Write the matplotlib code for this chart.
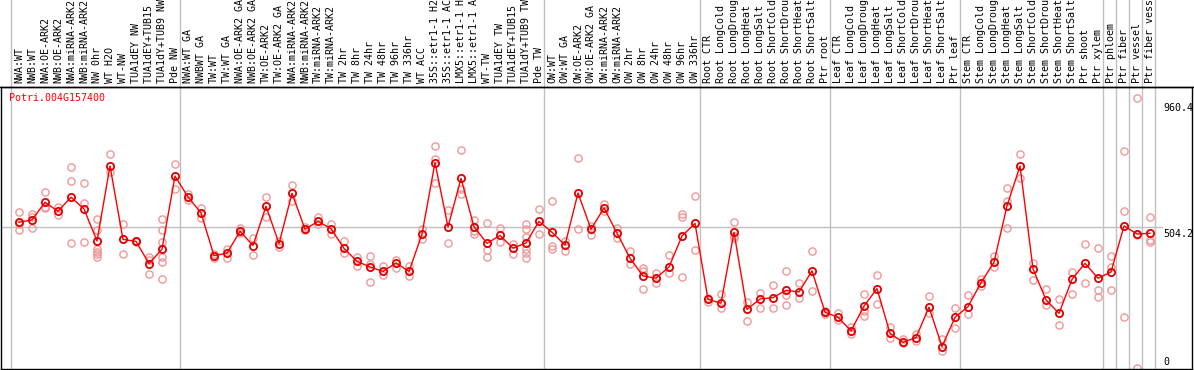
import matplotlib
matplotlib.use('Agg')
import matplotlib.pyplot as plt
import matplotlib.transforms as mtransforms

# sample labels, one column each
labels = [
    'NWA:WT', 'NWB:WT', 'NWA:OE-ARK2', 'NWB:OE-ARK2', 'NWA:miRNA-ARK2', 'NWB:miRNA-ARK2',
    'NW 0hr', 'WT H2O', 'WT-NW', 'TUA1dEY NW', 'TUA1dEY+TUB15 NW', 'TUA1dY+TUB9 NW', 'Pde NW',
    'NWA:WT GA', 'NWBWT GA', 'TW:WT', 'TW:WT GA', 'NWA:OE-ARK2 GA', 'NWB:OE-ARK2 GA',
    'TW:OE-ARK2', 'TW:OE-ARK2 GA', 'NWA:miRNA-ARK2', 'NWB:miRNA-ARK2', 'TW:miRNA-ARK2',
    'TW:miRNA-ARK2', 'TW 2hr', 'TW 8hr', 'TW 24hr', 'TW 48hr', 'TW 96hr', 'TW 336hr',
    'WT ACC', '35S::etr1-1 H2O', '35S::etr1-1 ACC', 'LMX5::etr1-1 H2O', 'LMX5::etr1-1 ACC',
    'WT-TW', 'TUA1dEY TW', 'TUA1dEY+TUB15 TW', 'TUA1dY+TUB9 TW', 'Pde TW',
    'OW:WT', 'OW:WT GA', 'OW:OE-ARK2', 'OW:OE-ARK2 GA', 'OW:miRNA-ARK2', 'OW:miRNA-ARK2',
    'OW 2hr', 'OW 8hr', 'OW 24hr', 'OW 48hr', 'OW 96hr', 'OW 336hr',
    'Root CTR', 'Root LongCold', 'Root LongDrought', 'Root LongHeat', 'Root LongSalt',
    'Root ShortCold', 'Root ShortDrought', 'Root ShortHeat', 'Root ShortSalt', 'Ptr root',
    'Leaf CTR', 'Leaf LongCold', 'Leaf LongDrought', 'Leaf LongHeat', 'Leaf LongSalt',
    'Leaf ShortCold', 'Leaf ShortDrought', 'Leaf ShortHeat', 'Leaf ShortSalt', 'Ptr leaf',
    'Stem CTR', 'Stem LongCold', 'Stem LongDrought', 'Stem LongHeat', 'Stem LongSalt',
    'Stem ShortCold', 'Stem ShortDrought', 'Stem ShortHeat', 'Stem ShortSalt',
    'Ptr shoot', 'Ptr xylem', 'Ptr phloem', 'Ptr fiber', 'Ptr vessel', 'Ptr fiber vessel',
]

# mean expression per sample
means = [
    520, 528, 591, 559, 609, 567, 453, 720, 459, 452,
    373, 424, 684, 610, 553, 401, 410, 488, 437, 577,
    444, 623, 495, 523, 497, 427, 381, 361, 345, 375,
    345, 478, 732, 503, 676, 504, 445, 473, 428, 446,
    523, 484, 439, 624, 495, 571, 481, 392, 329, 321,
    361, 471, 516, 246, 232, 484, 210, 247, 252, 278,
    272, 347, 200, 182, 134, 222, 284, 125, 93, 110,
    218, 78, 182, 220, 305, 378, 578, 720, 354, 244,
    196, 317, 374, 321, 343, 507, 478, 481,
]

# individual replicates per sample
reps = [
    [555, 492, 513], [548, 540, 500], [628, 573, 570], [575, 546], [715, 667, 446],
    [658, 587, 451], [531, 492, 425, 415, 407, 397], [761, 700], [514, 407], [455, 450],
    [397, 335, 385], [531, 492, 451, 397, 380, 317], [727, 638], [620, 600], [572, 534],
    [406, 392], [425, 392], [498, 482], [463, 402], [609, 540],
    [454, 431], [652, 595], [502, 492], [537, 515], [513, 477],
    [453, 410], [397, 365], [400, 306, 372], [365, 331], [386, 358],
    [365, 330], [495, 460], [791, 744, 658], [563, 445], [777, 637, 620],
    [528, 478, 490], [516, 421, 397], [500, 451], [443, 407], [514, 495, 469, 424, 410, 392],
    [567, 478], [595, 437, 424], [454, 419], [747, 496], [507, 475],
    [584, 560], [498, 465], [418, 370], [358, 345, 282], [341, 305],
    [403, 338], [548, 540, 324], [613, 421], [250, 237], [264, 214],
    [521, 470, 463], [237, 169], [269, 214], [297, 214], [345, 261, 226],
    [303, 252], [417, 276], [205, 195], [196, 172], [146, 122],
    [265, 205, 188], [331, 228], [149, 107], [105, 90], [122, 99],
    [258, 198], [105, 63], [216, 143], [261, 194], [317, 295],
    [401, 362], [641, 595, 498], [761, 676], [376, 315], [282, 226],
    [246, 155], [344, 265], [443, 305], [427, 279, 253], [400, 360, 279],
    [773, 560, 182], [960.4, 0, 474], [537, 457, 450],
]

# last sample index of each group (separator lines)
group_ends = [-1, 12, 40, 52, 62, 72, 83, 84, 85, 86, 87]
gene = 'Potri.004G157400'
ref_ticks = [960.4, 504.2, 0]

W, H = 1194, 370
fig = plt.figure(figsize=(W / 100, H / 100), dpi=100)
ax = fig.add_axes([1 / W, 1 / H, 1191 / W, 282 / H])

xs = list(range(len(labels)))
ax.set_xlim(-1.385, 90.23)
ax.set_ylim(-1.8, 1000.7)

mono = 'DejaVu Sans Mono'

# group separators, running through the label area too
for g in group_ends:
    gx = g + 0.38 if g >= 0 else -0.62
    ax.axvline(gx, ymin=0, ymax=1 + 88 / 282, color='#c0c0c0', lw=1.0, clip_on=False, zorder=1)

# reference line at the middle value
ax.plot([-1.385, 87.9], [ref_ticks[1], ref_ticks[1]], color='#c0c0c0', lw=1.0, zorder=1)

# replicates
for x, vals in zip(xs, reps):
    ax.plot([x] * len(vals), vals, linestyle='none', marker='o', ms=5.2,
            mfc='none', mec='#f09898', mew=1.0, zorder=2)

# mean line
ax.plot(xs, means, color='#ff0000', lw=1.0, marker='o', ms=5.2,
        mfc='none', mec='#e00000', mew=1.3, zorder=3)

# sample labels above the plot
trans = mtransforms.blended_transform_factory(ax.transData, ax.transAxes)
for x, lab in zip(xs, labels):
    ax.annotate(lab, xy=(x, 1), xycoords=trans, xytext=(0, 3.2), textcoords='offset points',
                rotation=90, ha='center', va='bottom', fontsize=7.2, family=mono,
                color='black', annotation_clip=False)

ax.text(-0.75, 952, gene, color='#ff0000', fontsize=7.2, family=mono, va='baseline', ha='left')

# value labels on the right
ax.text(88.0, 916, '960.4', fontsize=7.2, family=mono, va='baseline', ha='left')
ax.text(88.0, 468.5, '504.2', fontsize=7.2, family=mono, va='baseline', ha='left')
ax.text(88.0, 12.4, '0', fontsize=7.2, family=mono, va='baseline', ha='left')

ax.set_xticks([])
ax.set_yticks([])
for s in ax.spines.values():
    s.set_color('black')
    s.set_linewidth(1.0)

# top rule goes across the whole width
fig.add_artist(plt.Line2D([0, 1], [(H - 87) / H, (H - 87) / H], color='black', lw=1.0,
                          transform=fig.transFigure))

plt.savefig('out.png', dpi=100)
